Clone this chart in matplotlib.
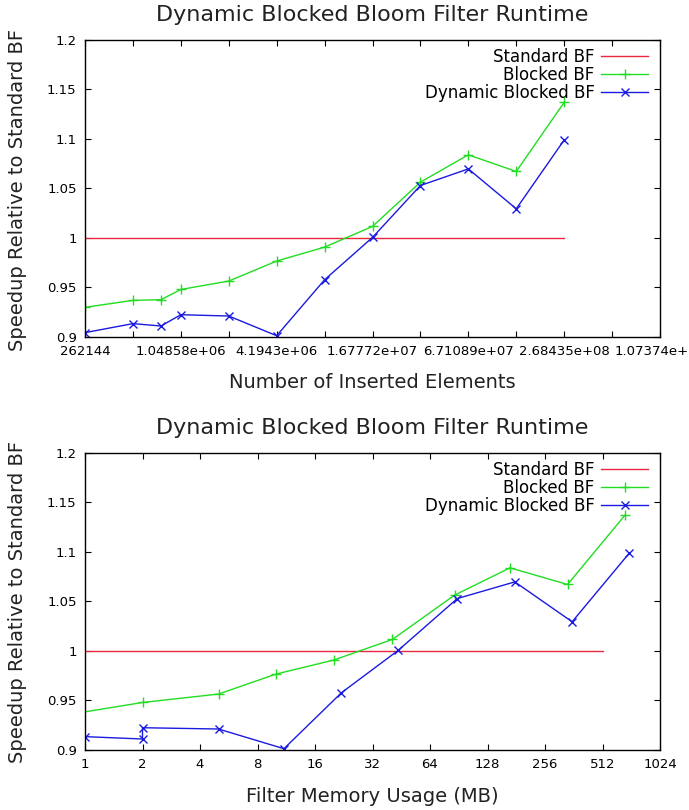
import numpy as np
import matplotlib
matplotlib.use("Agg")
import matplotlib.pyplot as plt
from matplotlib.ticker import FixedLocator, FuncFormatter, MultipleLocator

# inserted elements (top plot)
elements = [262144, 524288, 786432, 1048576, 2097152, 4194304, 8388608,
            16777216, 33554432, 67108864, 134217728, 268435456]

# memory usage in MB (bottom plot)
mem_standard = [0.5, 1, 2, 2, 4, 8, 16, 32, 64, 128, 256, 512]
mem_blocked = [0.5, 0.75, 0.94, 2, 5, 10, 20, 40.7, 86, 168, 336, 670]
mem_dynamic = [0.5, 1, 2, 2, 5, 11, 22, 43.6, 89, 178, 355, 708]

speed_standard = [1.0] * 12
speed_blocked = [0.930, 0.937, 0.9377, 0.948, 0.9565, 0.9767, 0.9908,
                 1.0117, 1.0564, 1.084, 1.0672, 1.137]
speed_dynamic = [0.9044, 0.9135, 0.9111, 0.9225, 0.9212, 0.9013, 0.9578,
                 1.0006, 1.053, 1.0698, 1.0295, 1.099]

title = "Dynamic Blocked Bloom Filter Runtime"
ylab = "Speedup Relative to Standard BF"

red = "#e8283c"
green = "#22dd22"
blue = "#1a1ae0"

fig = plt.figure(figsize=(6.89, 8.10), dpi=100)
W, H = 689.0, 810.0

def px_axes(left, top, right, bottom):
    return fig.add_axes([left / W, 1 - bottom / H, (right - left) / W, (bottom - top) / H])

ax1 = px_axes(85, 40, 660, 337)
ax2 = px_axes(85, 453, 660, 750)

fmt = FuncFormatter(lambda v, p: "%g" % v)


def style(ax):
    ax.set_ylim(0.9, 1.2)
    ax.yaxis.set_major_locator(MultipleLocator(0.05))
    ax.yaxis.set_major_formatter(fmt)
    ax.tick_params(which="both", direction="in", top=True, right=True,
                   length=4.5, width=0.8, labelsize=9.5, pad=6)
    for s in ax.spines.values():
        s.set_linewidth(1.0)
    ax.legend(loc="upper right", bbox_to_anchor=(0.979, 0.972), frameon=False,
              markerfirst=False, fontsize=12, labelspacing=0.0,
              handlelength=2.8, handletextpad=0.4, borderpad=0, borderaxespad=0)


# top: vs number of inserted elements
ax1.plot(elements, speed_standard, color=red, lw=1, label="Standard BF")
ax1.plot(elements, speed_blocked, color=green, lw=1, marker="+", ms=6.5, mew=1, label="Blocked BF")
ax1.plot(elements, speed_dynamic, color=blue, lw=1, marker="x", ms=5.5, mew=1, label="Dynamic Blocked BF")
ax1.set_xscale("log", base=2)
ax1.set_xlim(2**18, 2**30)
ax1.xaxis.set_major_locator(FixedLocator([2.0**k for k in range(18, 31, 2)]))
ax1.xaxis.set_minor_locator(FixedLocator([2.0**k for k in range(19, 30, 2)]))
ax1.xaxis.set_major_formatter(fmt)
ax1.xaxis.set_minor_formatter(FuncFormatter(lambda v, p: ""))
style(ax1)

# bottom: vs filter memory usage
ax2.plot(mem_standard, speed_standard, color=red, lw=1, label="Standard BF")
ax2.plot(mem_blocked, speed_blocked, color=green, lw=1, marker="+", ms=6.5, mew=1, label="Blocked BF")
ax2.plot(mem_dynamic, speed_dynamic, color=blue, lw=1, marker="x", ms=5.5, mew=1, label="Dynamic Blocked BF")
ax2.set_xscale("log", base=2)
ax2.set_xlim(1, 1024)
ax2.xaxis.set_major_locator(FixedLocator([2.0**k for k in range(0, 11)]))
ax2.xaxis.set_minor_locator(FixedLocator([]))
ax2.xaxis.set_major_formatter(fmt)
style(ax2)

fig.text(372 / W, 1 - 15 / H, title, ha="center", va="center", fontsize=16, color="#222222")
fig.text(372 / W, 1 - 428 / H, title, ha="center", va="center", fontsize=16, color="#222222")
fig.text(372 / W, 1 - 383 / H, "Number of Inserted Elements", ha="center", va="center", fontsize=14, color="#222222")
fig.text(372 / W, 1 - 797 / H, "Filter Memory Usage (MB)", ha="center", va="center", fontsize=14, color="#222222")
fig.text(18 / W, 1 - 190 / H, ylab, ha="center", va="center", rotation=90, fontsize=14, color="#222222")
fig.text(18 / W, 1 - 602 / H, ylab, ha="center", va="center", rotation=90, fontsize=14, color="#222222")

fig.savefig("out.png", dpi=100)
